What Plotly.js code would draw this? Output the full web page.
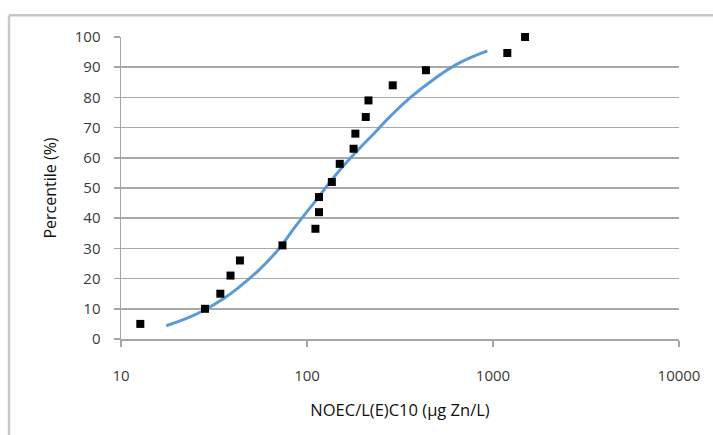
<!DOCTYPE html>
<html>
<head>
<meta charset="utf-8">
<script src="https://cdn.plot.ly/plotly-3.0.1.min.js"></script>
<style>
  html, body { margin: 0; padding: 0; background: #ffffff; }
  #chart { width: 713px; height: 435px; }
</style>
</head>
<body>
<div id="chart"></div>
<script>
// Observed data points (NOEC/L(E)C10, µg Zn/L) and percentile (%)
const obsConc = [12.7, 28.3, 34.2, 38.8, 43.6, 73.8, 111, 116, 116, 136, 150, 178, 182, 207, 214, 289, 436, 1194, 1487];
const obsPct  = [5, 10, 15, 21, 26, 31, 36.5, 42, 47, 52, 58, 63, 68, 73.5, 79, 84, 89, 94.7, 100];

// Fitted distribution curve
const fitConc = [17.5, 22.5, 28.3, 35.5, 43.6, 55.5, 68.5, 87.5, 112, 143, 184, 232, 281, 360, 473, 640, 933];
const fitPct  = [4.4, 6.8, 9.7, 13.3, 17.4, 23.0, 28.9, 37.6, 46.0, 54.4, 62.0, 68.4, 73.8, 80.0, 85.7, 91.0, 95.4];

const xTickVals = [10, 100, 1000, 10000];
const xTickText = ['10', '100', '1000', '10000'];
const yTickVals = [0, 10, 20, 30, 40, 50, 60, 70, 80, 90, 100];

const xTitle = 'NOEC/L(E)C10 (µg Zn/L)';
const yTitle = 'Percentile (%)';

const FONT = 'Open Sans, Liberation Sans, sans-serif';

const traces = [
  {
    x: fitConc, y: fitPct, type: 'scatter', mode: 'lines',
    line: { color: '#5b9bd5', width: 3, shape: 'spline', smoothing: 1.3 },
    hoverinfo: 'skip', showlegend: false
  },
  {
    x: obsConc, y: obsPct, type: 'scatter', mode: 'markers',
    marker: { symbol: 'square', size: 8, color: '#000000' },
    cliponaxis: false,
    showlegend: false
  }
];

const layout = {
  width: 713, height: 435,
  paper_bgcolor: '#ffffff', plot_bgcolor: '#ffffff',
  margin: { l: 121, r: 34, t: 37, b: 96, pad: 0 },
  showlegend: false,
  font: { family: FONT, size: 14, color: '#404040' },
  xaxis: {
    type: 'log', range: [1, 4], autorange: false,
    tickvals: xTickVals, ticktext: xTickText,
    ticks: 'outside', ticklen: 6, tickwidth: 1.5, tickcolor: '#a6a6a6',
    showline: true, linecolor: '#a6a6a6', linewidth: 1.5,
    showgrid: false, zeroline: false,
    ticklabelstandoff: 16,
    tickfont: { family: FONT, size: 15, color: '#3a3a3a' },
    title: { text: xTitle, standoff: 21, font: { family: FONT, size: 16.5, color: '#111111' } },
    automargin: false
  },
  yaxis: {
    range: [0, 100], autorange: false,
    tickvals: yTickVals,
    ticks: 'outside', ticklen: 6, tickwidth: 1.5, tickcolor: '#a6a6a6',
    showline: true, linecolor: '#a6a6a6', linewidth: 1.5,
    showgrid: true, gridcolor: '#a8a8a8', gridwidth: 1.5,
    zeroline: false,
    ticklabelstandoff: 10,
    tickfont: { family: FONT, size: 15, color: '#3a3a3a' },
    title: { text: yTitle, standoff: 14, font: { family: FONT, size: 16, color: '#111111' } },
    automargin: false
  },
  shapes: [
    {
      type: 'line', xref: 'paper', yref: 'paper',
      x0: -0.2007, x1: 1.07, y0: 1.0717, y1: 1.0717,
      line: { color: '#c8c8c8', width: 2.5 }
    },
    {
      type: 'line', xref: 'paper', yref: 'paper',
      x0: -0.2007, x1: -0.2007, y0: 1.0717, y1: -0.33,
      line: { color: '#c8c8c8', width: 2.5 }
    }
  ]
};

Plotly.newPlot('chart', traces, layout, { staticPlot: true, displayModeBar: false });
</script>
</body>
</html>
